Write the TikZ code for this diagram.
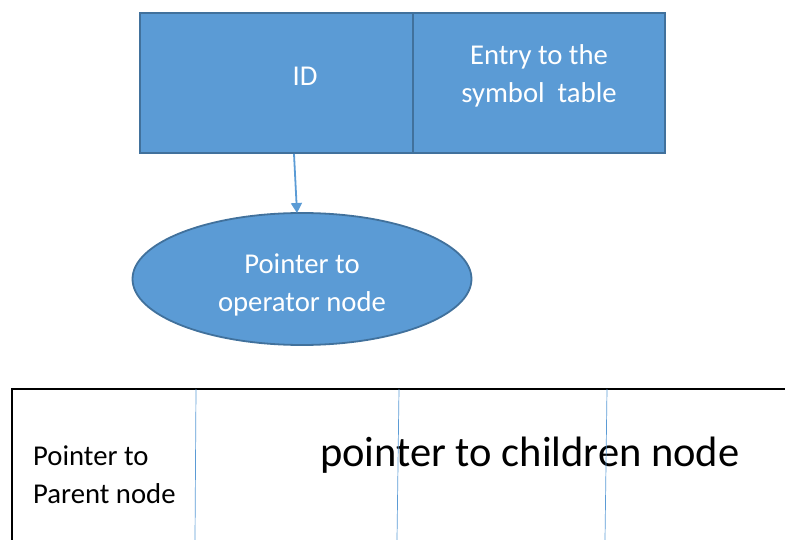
\documentclass[tikz,border=0pt]{standalone}
\usepackage{fontspec}
\setmainfont{Carlito}
\usetikzlibrary{shapes.geometric,arrows.meta}
\definecolor{fillb}{HTML}{5B9BD5}
\definecolor{edgeb}{HTML}{41719C}
\begin{document}
\begin{tikzpicture}[x=1pt,y=-1pt,
  box/.style={rectangle,draw=edgeb,fill=fillb,line width=1.8pt,inner sep=0pt},
  oval/.style={ellipse,draw=edgeb,fill=fillb,line width=1.8pt,inner sep=0pt},
  wt/.style={text=white,align=center,inner sep=0pt,font=\fontsize{28.7}{37.5}\selectfont},
  bt/.style={text=black,align=left,inner sep=0pt,anchor=base west},
  divider/.style={draw=fillb,line width=0.7pt},
  link/.style={draw=fillb,line width=1.8pt,-{Triangle[length=10pt,width=11pt]}}]
\useasboundingbox (0,0) rectangle (785,540);
\clip (0,0) rectangle (785,540);
% top record
\node[box,minimum width=328pt,minimum height=140pt] (idbox) at (304,83) {};
\node[box,minimum width=252pt,minimum height=140pt] (entry) at (539,83) {};
\node[wt] (idtext) at (305,76) {ID};
\node[wt] (entrytext) at (539,76) {Entry to the\\symbol\ \ table};
% ellipse
\node[oval,minimum width=339pt,minimum height=132pt] (ptr) at (302,279) {};
\node[wt] (ptrtext) at (302,285) {Pointer to\\operator node};
\coordinate (a1) at (294,154);
\coordinate (a2) at (297,213);
\draw[link] (a1) -- (a2);
% bottom record
\node[rectangle,draw=black,line width=2pt,minimum width=800pt,minimum height=200pt,anchor=north west,inner sep=0pt] (rec) at (11,388) {};
\node[bt,font=\fontsize{28.7}{38}\selectfont] (parent) at (33,503) {Pointer to\\Parent node};
\node[bt,font=\fontsize{42.5}{50}\selectfont] (children) at (320,466) {pointer to children node};
\draw[divider] (196,389) -- (195,540);
\draw[divider] (399,389) -- (397,540);
\draw[divider] (607,389) -- (605,540);
\end{tikzpicture}
\end{document}
